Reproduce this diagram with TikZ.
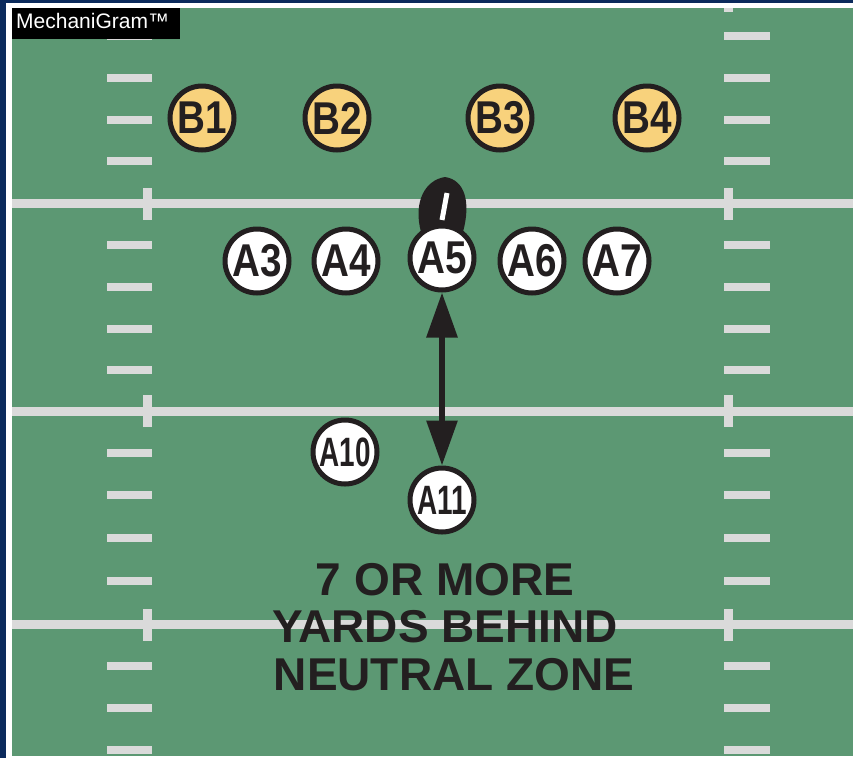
\documentclass[tikz,border=0pt]{standalone}
\usepackage{graphicx}
\usepackage{fontspec}
\setmainfont{Liberation Sans}
\usetikzlibrary{arrows.meta}
\definecolor{field}{HTML}{5C9873}
\definecolor{chalk}{HTML}{DADADA}
\definecolor{navy}{HTML}{0B2A5C}
\definecolor{defcol}{HTML}{F8D27C}
\definecolor{ink}{HTML}{231F20}
% squeezed player label
\newcommand{\plab}[2][0.84]{\scalebox{#1}[1]{#2}}
\newcommand{\plabw}[1]{\plab[0.68]{\fontsize{41}{41}\selectfont #1}}
\tikzset{
  player/.style={circle,draw=ink,line width=5pt,minimum size=64pt,inner sep=0pt,
    font=\fontsize{46}{46}\selectfont\bfseries,text=ink},
  offense/.style={player,fill=white},
  defense/.style={player,fill=defcol},
  note/.style={inner sep=0pt,text=ink,font=\fontsize{46}{46}\selectfont\bfseries,anchor=base},
}
\begin{document}
\begin{tikzpicture}[x=1pt,y=-1pt]
  \useasboundingbox (0,0) rectangle (853,758);
  \fill[navy] (0,0) rectangle (853,758);
  \fill[white] (6,3) rectangle (853,758);
  \fill[field] (12,8) rectangle (853,756);
  \begin{scope}
    \clip (12,8) rectangle (853,756);
    % yard lines with ticks
    \foreach \y in {203.5,411,624.5} {
      \fill[chalk] (12,\y-4.5) rectangle (853,\y+4.5);
      \fill[chalk] (143,\y-16) rectangle (152,\y+16);
      \fill[chalk] (724,\y-16) rectangle (733,\y+16);
    }
    \fill[chalk] (724,-20) rectangle (733,11.5);
    % hash marks
    \foreach \y in {36,78,120,161,245,287,329,370,453,495,538,581,666,708,750} {
      \fill[chalk] (107,\y-4) rectangle (152,\y+4);
      \fill[chalk] (724,\y-4) rectangle (770,\y+4);
    }
  \end{scope}
  \fill[black] (12,8) rectangle (180,39);
  \node[anchor=base west,inner sep=0pt,text=white,font=\fontsize{21}{21}\selectfont]
    (tag) at (16,28) {MechaniGram™};
  % ball
  \fill[ink] (445,177) .. controls (465,180) and (471,202) .. (463,232)
    -- (421,232) .. controls (413,202) and (425,180) .. (445,177) -- cycle;
  \draw[white,line width=5pt] (447,193) -- (442,220);
  % defense
  \node[defense] (B1) at (202,118) {\plab{B1}};
  \node[defense] (B2) at (337,118) {\plab{B2}};
  \node[defense] (B3) at (500,118) {\plab{B3}};
  \node[defense] (B4) at (647,118) {\plab{B4}};
  % offense
  \node[offense] (A3) at (257,261) {\plab{A3}};
  \node[offense] (A4) at (346,261) {\plab{A4}};
  \node[offense] (A5) at (442,258) {\plab{A5}};
  \node[offense] (A6) at (532,261) {\plab{A6}};
  \node[offense] (A7) at (617,261) {\plab{A7}};
  \node[offense] (A10) at (345,452) {\plabw{A10}};
  \node[offense] (A11) at (442,500) {\plabw{A11}};
  \draw[ink,line width=6pt,{Triangle[length=45pt,width=30pt]}-{Triangle[length=45pt,width=30pt]}]
    (A5) -- (A11);
  \node[note] (n1) at (445,595) {7 OR MORE};
  \node[note] (n2) at (445,642) {YARDS BEHIND};
  \node[note] (n3) at (454,690) {NEUTRAL ZONE};
\end{tikzpicture}
\end{document}
